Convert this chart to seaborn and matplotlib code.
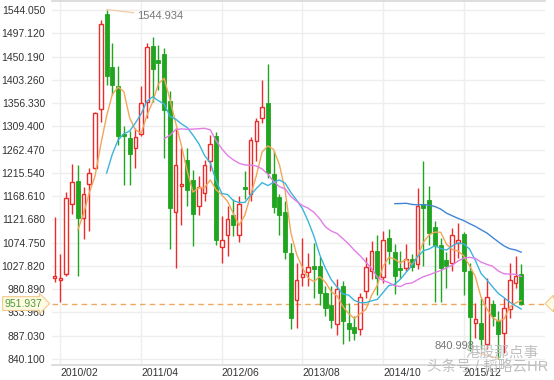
import numpy as np
import pandas as pd
import matplotlib
matplotlib.use("Agg")
import matplotlib.pyplot as plt
import seaborn as sns

# ---------------- data (monthly candles, 2010/01 .. 2016/10) ----------------
opens = [1003, 1000, 1012, 1153, 1200, 1125, 1194, 1225, 1345, 1535,
         1430, 1390, 1294, 1286, 1266, 1294, 1358, 1472, 1443, 1455,
         1361, 1137, 1190, 1242, 1202, 1148, 1175, 1239, 1289, 1066,
         1091, 1131, 1091, 1187, 1172, 1279, 1326, 1356, 1213, 1166,
         1137, 1054, 960, 1005, 1015, 1027, 1027, 974, 949, 911,
         987, 913, 905, 900, 977, 1017, 1058, 1005, 1084, 1056,
         1023, 1024, 1041, 1032, 1153, 1161, 1106, 1071, 1039, 1034,
         1074, 1092, 1017, 913, 913, 871, 952, 917, 893, 940,
         994, 1012]
highs = [1126, 1052, 1177, 1233, 1232, 1188, 1225, 1338, 1524, 1544.934,
         1477, 1432, 1310, 1300, 1306, 1390, 1477, 1490, 1474, 1467,
         1380, 1307, 1266, 1266, 1222, 1209, 1242, 1292, 1298, 1128,
         1148, 1162, 1168, 1219, 1287, 1326, 1403, 1435, 1259, 1172,
         1158, 1074, 1034, 1084, 1054, 1074, 1045, 987, 987, 1001,
         998, 953, 927, 974, 1045, 1078, 1091, 1098, 1103, 1072,
         1058, 1072, 1052, 1185, 1239, 1190, 1118, 1084, 1056, 1104,
         1114, 1097, 1034, 953, 964, 1003, 960, 937, 964, 1034,
         1048, 1031]
lows = [995, 955, 1008, 1133, 1007, 1082, 1098, 1224, 1319, 1393,
        1373, 1272, 1192, 1192, 1225, 1289, 1326, 1359, 1383, 1245,
        1061, 1024, 1111, 1148, 1068, 1131, 1159, 1220, 1071, 1034,
        1047, 1088, 1076, 1162, 1158, 1240, 1316, 1205, 1135, 1091,
        1041, 900, 903, 987, 987, 964, 949, 927, 903, 888,
        870, 876, 878, 888, 964, 1001, 970, 994, 1031, 972,
        1004, 1017, 1017, 1021, 1027, 1071, 955, 955, 984, 1017,
        1044, 970, 856, 883, 860, 860, 907, 840.998, 853, 923,
        984, 950]
closes = [1008, 1004, 1165, 1198, 1125, 1172, 1215, 1336, 1515, 1410,
          1393, 1289, 1290, 1253, 1287, 1357, 1470, 1425, 1437, 1343,
          1145, 1232, 1194, 1180, 1133, 1188, 1232, 1274, 1081, 1081,
          1123, 1111, 1153, 1183, 1282, 1321, 1349, 1215, 1146, 1130,
          1056, 923, 1000, 1012, 1025, 1021, 974, 942, 918, 982,
          917, 900, 893, 965, 1025, 1058, 1004, 1081, 1058, 1007,
          1019, 1041, 1025, 1148, 1145, 1094, 1068, 1024, 1027, 1091,
          1081, 1017, 925, 920, 880, 965, 927, 890, 942, 1000,
          1007, 951.937]
months = pd.period_range("2010-01", periods=len(closes), freq="M")
ma_windows = [5, 10, 20, 60]
ma_colors = ["#f2a65a", "#3bb4dc", "#e27ee6", "#3f86d4"]
xtick_labels = ["2010/02", "2011/04", "2012/06", "2013/08", "2014/10", "2015/12"]
ytick_labels = ["1544.050", "1497.120", "1450.190", "1403.260", "1356.330",
                "1309.400", "1262.470", "1215.540", "1168.610", "1121.680",
                "1074.750", "1027.820", "980.890", "933.960", "887.030", "840.100"]
last_close_label = "951.937"
max_label = "1544.934"
min_label = "840.998"

# ---------------- build frame ----------------
df = pd.DataFrame({"month": months.strftime("%Y/%m"), "open": opens, "high": highs,
                   "low": lows, "close": closes})
df["idx"] = np.arange(len(df))
for w in ma_windows:
    df[f"ma{w}"] = df["close"].rolling(w).mean()

sns.set_theme(style="white")
plt.rcParams["font.family"] = ["Liberation Sans", "Noto Sans CJK SC", "DejaVu Sans"]

W, H = 554, 380
fig = plt.figure(figsize=(W / 100, H / 100), dpi=100)
ax = fig.add_axes([52 / W, 1 - 365 / H, (545 - 52) / W, (365 - 1) / H])

RED = "#ec2b2b"
GREEN = "#1fa51f"

# grid
yvals = [float(t) for t in ytick_labels]
ax.set_yticks(yvals)
ax.set_yticklabels(ytick_labels)
xt = [df.index[df["month"] == m][0] for m in xtick_labels]
ax.set_xticks(xt)
ax.set_xticklabels(xtick_labels, ha="left")
ax.grid(True, color="#eeeeee", lw=1, zorder=0)
ax.set_axisbelow(True)

# candles
up = df["close"] >= df["open"]
for _, r in df.iterrows():
    col = RED if r["close"] >= r["open"] else GREEN
    ax.vlines(r["idx"], r["low"], r["high"], color=col, lw=1, zorder=2)
bot = np.minimum(df["open"], df["close"])
hgt = np.maximum(np.abs(df["close"] - df["open"]), 1.2)
ax.bar(df["idx"][up], hgt[up], bottom=bot[up], width=0.62, facecolor="white",
       edgecolor=RED, lw=1, zorder=3)
ax.bar(df["idx"][~up], hgt[~up], bottom=bot[~up], width=0.7, facecolor=GREEN,
       edgecolor=GREEN, lw=0.6, zorder=3)

# moving averages
for w, c in zip(ma_windows, ma_colors):
    sns.lineplot(data=df, x="idx", y=f"ma{w}", color=c, lw=1, ax=ax, zorder=4)

# last close dashed line + labels
last = df["close"].iloc[-1]
ax.axhline(last, color="#f0a860", ls=(0, (4, 3)), lw=1, zorder=1)
ax.annotate(last_close_label, xy=(0, last), xycoords=("axes fraction", "data"),
            xytext=(-7, 0), textcoords="offset points", ha="right", va="center",
            fontsize=7.5, color="#4a9a3a", zorder=6, annotation_clip=False,
            bbox=dict(boxstyle="rarrow,pad=0.18", fc="#fffbe3", ec="#efc98c", lw=0.8))
ax.annotate(" ", xy=(1, last), xycoords=("axes fraction", "data"),
            xytext=(4.5, 0), textcoords="offset points", ha="left", va="center",
            fontsize=5, annotation_clip=False,
            bbox=dict(boxstyle="larrow,pad=0.3", fc="#fffbe3", ec="#efc98c", lw=0.8))

# max / min labels
imax = int(df["high"].idxmax())
ax.annotate(max_label, xy=(imax, df["high"].iloc[imax]), xytext=(22, -4.5),
            textcoords="offset points", ha="left", va="center", fontsize=8,
            color="#777777", arrowprops=dict(arrowstyle="-", color="#f4cba4", lw=0.9,
                                             shrinkA=0, shrinkB=0))
imin = int(df["low"].idxmin())
ax.annotate(min_label, xy=(imin, df["low"].iloc[imin]), xytext=(-17, 9),
            textcoords="offset points", ha="right", va="center", fontsize=8,
            color="#777777", arrowprops=dict(arrowstyle="-", color="#f4cba4", lw=0.9,
                                             shrinkA=0, shrinkB=0))

# axes styling
ax.set_xlim(-0.47, 85.1)
ax.set_ylim(828.0, 1562.2)
ax.set_xlabel("")
ax.set_ylabel("")
ax.tick_params(axis="y", length=0, pad=5, labelsize=7.5, labelcolor="#333333")
ax.tick_params(axis="x", length=0, pad=2, labelsize=7.5, labelcolor="#333333")
for s in ["left", "right"]:
    ax.spines[s].set_visible(False)
ax.spines["bottom"].set_color("#d8d8d8")
ax.spines["top"].set_color("#d8d8d8")

# watermark
fig.text(502 / W, 1 - 353 / H, "港股那点事", fontsize=10.5, color="#b8b8b8",
         ha="center", va="center", alpha=0.9, zorder=10)
fig.text(488 / W, 1 - 368 / H, "头条号 / 韬略云HR", fontsize=10.5, color="#b8b8b8",
         ha="center", va="center", alpha=0.9, zorder=10)

fig.savefig("out.png", dpi=100)
